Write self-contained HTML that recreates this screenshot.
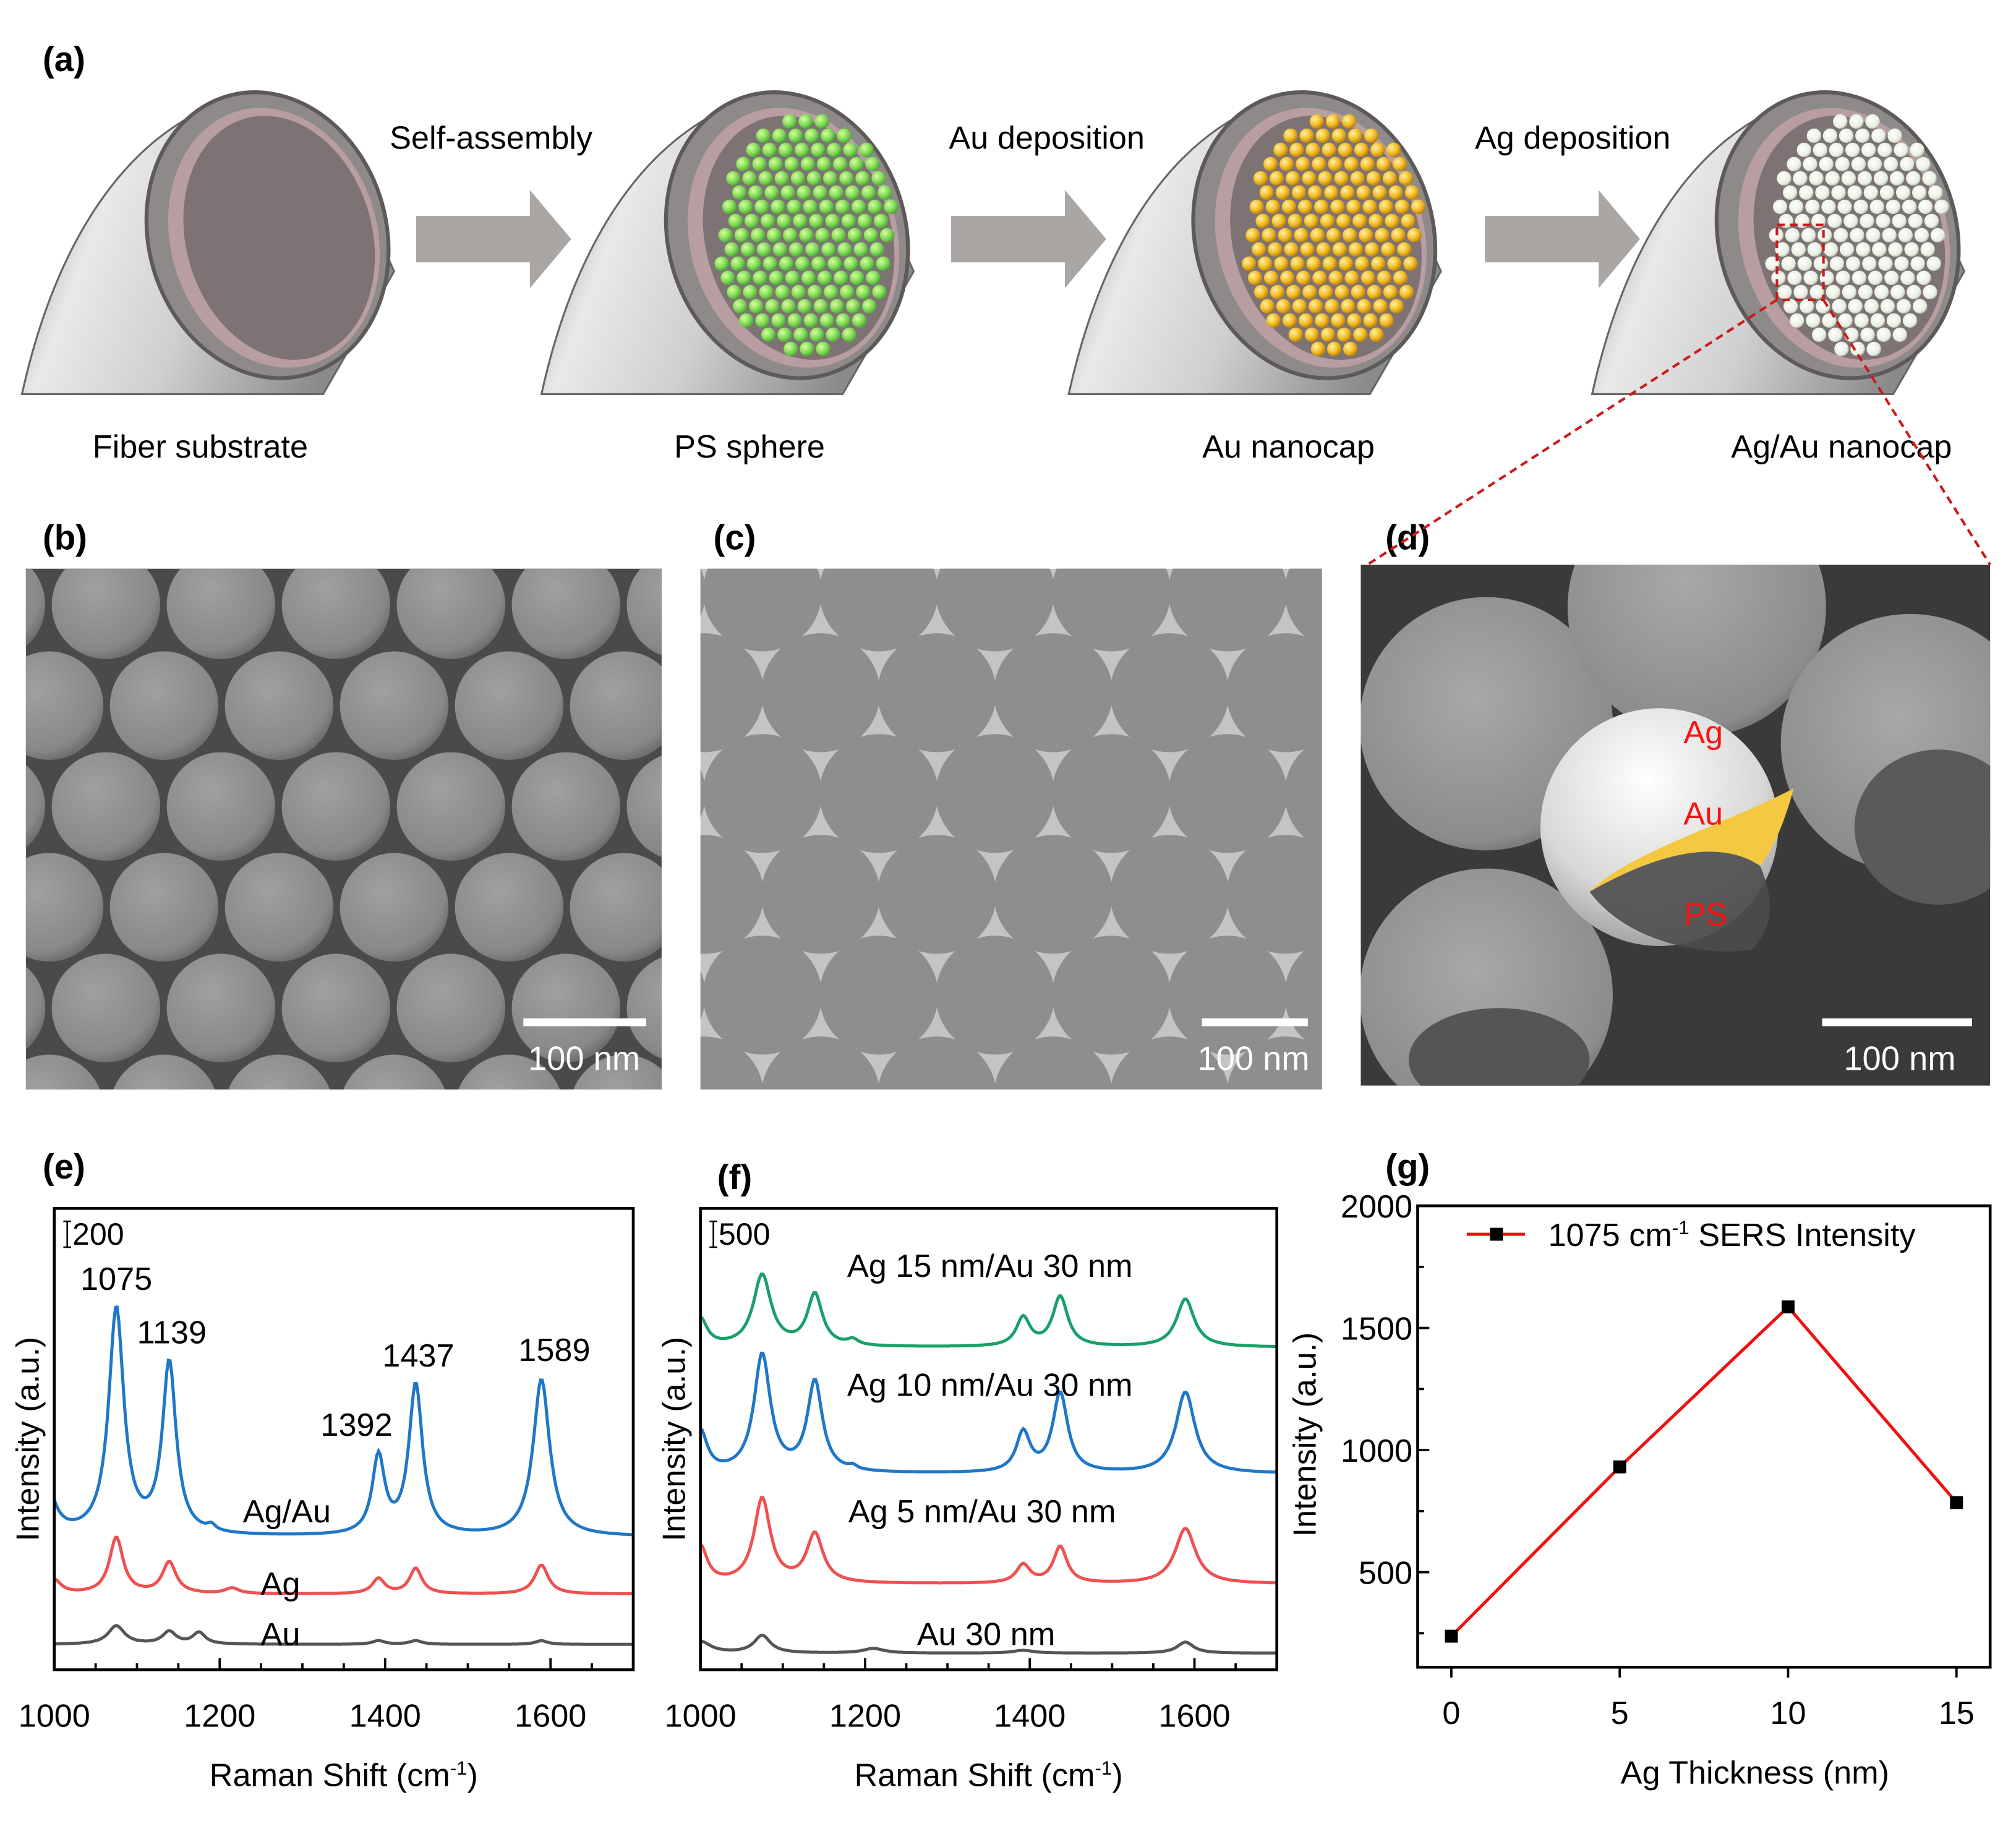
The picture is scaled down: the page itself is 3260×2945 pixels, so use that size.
<!DOCTYPE html>
<html><head><meta charset="utf-8"><style>
html,body{margin:0;padding:0;background:#fff;}
svg{display:block;font-family:"Liberation Sans",Arial,sans-serif;}
</style></head><body>
<svg id="fig" width="3260" height="2945" viewBox="0 0 1560 1409" preserveAspectRatio="none" xmlns="http://www.w3.org/2000/svg">
<defs>
<linearGradient id="body" x1="0" y1="0" x2="1" y2="0.3"><stop offset="0" stop-color="#777"/><stop offset="0.3" stop-color="#e9e9e9"/><stop offset="0.6" stop-color="#cfcfcf"/><stop offset="1" stop-color="#8a8a8a"/></linearGradient>
<radialGradient id="gS" cx="0.35" cy="0.35" r="0.7"><stop offset="0" stop-color="#d6ff9a"/><stop offset="0.6" stop-color="#7ed957"/><stop offset="1" stop-color="#4c9e35"/></radialGradient>
<radialGradient id="yS" cx="0.35" cy="0.35" r="0.7"><stop offset="0" stop-color="#fff2a0"/><stop offset="0.6" stop-color="#f2b820"/><stop offset="1" stop-color="#b07a10"/></radialGradient>
<radialGradient id="wS" cx="0.4" cy="0.4" r="0.7"><stop offset="0" stop-color="#ffffff"/><stop offset="0.7" stop-color="#e8eee0"/><stop offset="1" stop-color="#9aa890"/></radialGradient>
<radialGradient id="semB" cx="0.4" cy="0.35" r="0.7"><stop offset="0" stop-color="#a0a0a0"/><stop offset="0.8" stop-color="#888"/><stop offset="1" stop-color="#666"/></radialGradient>
<radialGradient id="semD" cx="0.45" cy="0.4" r="0.7"><stop offset="0" stop-color="#a8a8a8"/><stop offset="0.8" stop-color="#8c8c8c"/><stop offset="1" stop-color="#5a5a5a"/></radialGradient>
<radialGradient id="capG" cx="0.45" cy="0.3" r="0.8"><stop offset="0" stop-color="#ffffff"/><stop offset="0.6" stop-color="#d8d8d8"/><stop offset="1" stop-color="#8a8a8a"/></radialGradient>
<clipPath id="clipB"><rect x="20" y="440" width="492" height="403"/></clipPath>
<clipPath id="clipC"><rect x="542" y="440" width="481" height="403"/></clipPath>
<clipPath id="clipD"><rect x="1053" y="437" width="487" height="403"/></clipPath>
</defs>

<text x="33" y="55" font-size="27" font-weight="bold">(a)</text>
<g id="fibers"></g>
<g fill="#aaa6a4">
<path d="M322,167 h88 v-20 l32,38 l-32,38 v-20 h-88z"/>
<path d="M736,167 h88 v-20 l32,38 l-32,38 v-20 h-88z"/>
<path d="M1149,167 h88 v-20 l32,38 l-32,38 v-20 h-88z"/>
</g>
<g font-size="25" text-anchor="middle">
<text x="380" y="115">Self-assembly</text>
<text x="810" y="115">Au deposition</text>
<text x="1217" y="115">Ag deposition</text>
<text x="155" y="354">Fiber substrate</text>
<text x="580" y="354">PS sphere</text>
<text x="997" y="354">Au nanocap</text>
<text x="1425" y="354">Ag/Au nanocap</text>
</g>

<text x="33" y="425" font-size="27" font-weight="bold">(b)</text>
<text x="552" y="425" font-size="27" font-weight="bold">(c)</text>
<text x="1072" y="425" font-size="27" font-weight="bold">(d)</text>

<g clip-path="url(#clipB)">
<rect x="20" y="440" width="492" height="403" fill="#4a4a4a"/>
<g id="semBspheres"></g>
<rect x="405" y="788" width="95" height="6" fill="#fff"/>
<text x="452" y="828" font-size="26" fill="#fff" text-anchor="middle">100 nm</text>
</g>
<g clip-path="url(#clipC)">
<rect x="542" y="440" width="481" height="403" fill="#c4c4c4"/>
<g id="semCcircles"></g>
<rect x="930" y="788" width="82" height="6" fill="#fff"/>
<text x="970" y="828" font-size="26" fill="#fff" text-anchor="middle">100 nm</text>
</g>
<g clip-path="url(#clipD)">
<rect x="1053" y="437" width="487" height="403" fill="#3a3a3a"/>
<circle cx="1150" cy="560" r="98" fill="url(#semD)"/>
<circle cx="1313" cy="470" r="100" fill="url(#semD)"/>
<circle cx="1478" cy="575" r="100" fill="url(#semD)"/>
<ellipse cx="1500" cy="640" rx="65" ry="60" fill="#5a5a5a"/>
<circle cx="1150" cy="770" r="98" fill="url(#semD)"/>
<ellipse cx="1160" cy="820" rx="70" ry="40" fill="#555"/>
<circle cx="1284" cy="640" r="92" fill="url(#capG)"/>
<path d="M1230,690 C1260,660 1330,640 1388,610 C1380,640 1370,660 1362,670 C1340,655 1300,650 1230,690Z" fill="#f5c842"/>
<path d="M1230,690 C1300,650 1340,655 1362,670 C1375,700 1370,720 1355,735 C1320,740 1260,730 1230,690Z" fill="#4d4d4d" opacity="0.9"/>
<text x="1318" y="575" font-size="25" fill="#ff1010" text-anchor="middle">Ag</text>
<text x="1318" y="638" font-size="25" fill="#ff1010" text-anchor="middle">Au</text>
<text x="1320" y="716" font-size="25" fill="#ff1010" text-anchor="middle">PS</text>
<rect x="1410" y="788" width="116" height="6" fill="#fff"/>
<text x="1470" y="828" font-size="26" fill="#fff" text-anchor="middle">100 nm</text>
</g>
<g stroke="#cc1a1a" stroke-width="2" stroke-dasharray="6,4" fill="none">
<rect x="1375" y="174" width="36" height="58"/>
<line x1="1375" y1="232" x2="1058" y2="437"/>
<line x1="1411" y1="232" x2="1540" y2="437"/>
</g>

<text x="33" y="912" font-size="27" font-weight="bold">(e)</text>
<text x="555" y="920" font-size="27" font-weight="bold">(f)</text>
<text x="1072" y="912" font-size="27" font-weight="bold">(g)</text>
<g id="chartE"></g>
<g id="chartF"></g>
<g id="chartG"></g>
</svg>
<script>
// ---------- chart data ----------
const ramanTicks = [1000, 1200, 1400, 1600];
const ramanDomain = [1000, 1700];
// panel e: baseline and peak parameters (position, height, half-width)
const eNames = ['Ag/Au', 'Ag', 'Au'];
const eColors = ['#1f77c8', '#f05050', '#555555'];
const eBaselines = [288, 164, 55];
const ePeakPos = [[990, 1075, 1139, 1190, 1392, 1437, 1589], [1000, 1075, 1139, 1215, 1392, 1437, 1589], [1075, 1139, 1175, 1392, 1437, 1589]];
const ePeakHeights = [[115, 490, 370, 12, 168, 326, 340], [30, 122, 68, 12, 33, 55, 63], [40, 27, 25, 8, 8, 8]];
const ePeakWidths = [[12, 11, 10, 6, 9, 10, 12], [10, 10, 10, 10, 9, 9, 10], [12, 10, 9, 9, 9, 9]];
const ePeakLabels = ['1075', '1139', '1392', '1437', '1589'];
// panel f
const fNames = ['Ag 15 nm/Au 30 nm', 'Ag 10 nm/Au 30 nm', 'Ag 5 nm/Au 30 nm', 'Au 30 nm'];
const fColors = ['#1aa06a', '#1f77c8', '#f05050', '#555555'];
const fBaselines = [699, 425, 186, 36];
const fPeakPos = [[1000, 1075, 1139, 1185, 1392, 1437, 1589], [1000, 1075, 1139, 1185, 1392, 1437, 1589], [1000, 1075, 1139, 1392, 1437, 1589], [1000, 1075, 1210, 1392, 1589]];
const fPeakHeights = [[60, 155, 112, 12, 62, 108, 104], [90, 255, 196, 8, 86, 172, 176], [80, 183, 106, 40, 79, 120], [25, 38, 10, 6, 24]];
const fPeakWidths = [[10, 13, 11, 8, 10, 11, 13], [10, 12, 11, 6, 10, 11, 14], [10, 12, 12, 10, 10, 15], [15, 12, 15, 15, 12]];
// panel g
const gThickness = [0, 5, 10, 15];
const gIntensity = [238, 931, 1586, 785];
const gYTicks = [500, 1000, 1500, 2000];
const gXTicks = [0, 5, 10, 15];

const NS = 'http://www.w3.org/2000/svg';
function mk(tag, attrs, parent){const e=document.createElementNS(NS,tag);for(const k in attrs)e.setAttribute(k,attrs[k]);parent.appendChild(e);return e;}

// ---------- fibers ----------
const fib = document.getElementById('fibers');
const fiberX = [0, 402, 810, 1215];
const fillTypes = [null, 'url(#gS)', 'url(#yS)', 'url(#wS)'];
fiberX.forEach((ox, i) => {
  const g = mk('g', {}, fib);
  
  
  mk('path', {d:`M${ox+17},305 C${ox+40},200 ${ox+90},105 ${ox+180},76 L${ox+260},110 L${ox+305},210 L${ox+250},305 Z`, fill:'url(#body)', stroke:'#666', 'stroke-width':1.5}, g);
  mk('ellipse', {cx:ox+207, cy:182, rx:92, ry:112, transform:`rotate(-16 ${ox+207} 182)`, fill:'#8f8a8a', stroke:'#5e5a5a', 'stroke-width':3}, g);
  mk('ellipse', {cx:ox+212, cy:184, rx:80, ry:102, transform:`rotate(-16 ${ox+212} 184)`, fill:'#b89ea0'}, g);
  mk('ellipse', {cx:ox+216, cy:184, rx:72, ry:96, transform:`rotate(-16 ${ox+216} 184)`, fill:'#7d7274'}, g);
  if (fillTypes[i]) {
    const cx = ox+222, cy = 182;
    for (let r = -8; r <= 8; r++) {
      for (let c = -7; c <= 7; c++) {
        const x = cx + c*12.5 + (r%2 ? 6.2 : 0) + r*-1.5, y = cy + r*11;
        const dx = (x-cx)/68, dy = (y-cy)/92;
        if (dx*dx+dy*dy < 1 && Math.abs(c*12.5 + (r%2?6.2:0)) < 64) mk('circle', {cx:x, cy:y, r:5.6, fill:fillTypes[i]}, g);
      }
    }
  }
});

// ---------- SEM b ----------
const sb = document.getElementById('semBspheres');
for (let r = 0; r < 6; r++) for (let c = -1; c < 7; c++) {
  const x = 20 + c*89 + (r%2 ? 0 : 44) + 18, y = 440 + r*78 + 28;
  mk('circle', {cx:x, cy:y, r:42, fill:'url(#semB)'}, sb);
}
// ---------- SEM c ----------
const sc = document.getElementById('semCcircles');
for (let r = 0; r < 6; r++) for (let c = -1; c < 7; c++) {
  const x = 542 + c*90 + (r%2 ? 45 : 0) + 48, y = 440 + r*78 + 18;
  mk('circle', {cx:x, cy:y, r:46, fill:'#8e8e8e'}, sc);
}

// ---------- spectra ----------
function spectrum(base, pos, hts, wds, x){let y=base;for(let k=0;k<pos.length;k++){const t=(x-pos[k])/wds[k];y+=hts[k]/(1+t*t);}return y;}
function ramanChart(id, left, right, top, bottom, names, colors, bases, pos, hts, wds, scaleLabel){
  const g = document.getElementById(id);
  const sx = v => left + (v-ramanDomain[0])/(ramanDomain[1]-ramanDomain[0])*(right-left);
  const sy = v => bottom - v*(bottom-top)/1000;
  for (let s = 0; s < names.length; s++) {
    let d = '';
    for (let x = ramanDomain[0]; x <= ramanDomain[1]; x += 2) d += (x===ramanDomain[0]?'M':'L') + sx(x).toFixed(1) + ',' + sy(spectrum(bases[s], pos[s], hts[s], wds[s], x)).toFixed(1);
    const p = mk('path', {d:d, fill:'none', stroke:colors[s], 'stroke-width':2.4}, g);
    
    
  }
  const fr = mk('rect', {x:left, y:top, width:right-left, height:bottom-top, fill:'none', stroke:'#000', 'stroke-width':2.2}, g);
  
  
  for (let v = ramanDomain[0]; v <= ramanDomain[1]; v += 50) {
    const major = ramanTicks.includes(v);
    mk('line', {x1:sx(v), x2:sx(v), y1:bottom, y2:bottom-(major?9:5), stroke:'#000', 'stroke-width':1.8}, g);
  }
  ramanTicks.forEach(v => {
    const t = mk('text', {x:sx(v), y:bottom+44, 'font-size':25, 'text-anchor':'middle'}, g);
    t.textContent = v;
    
    
  });
  const xt = mk('text', {x:(left+right)/2, y:bottom+90, 'font-size':25, 'text-anchor':'middle'}, g);
  xt.innerHTML = 'Raman Shift (cm<tspan dy="-9" font-size="15">-1</tspan><tspan dy="9">)</tspan>';
  
  
  const yt = mk('text', {x:0, y:0, 'font-size':25, 'text-anchor':'middle', transform:`translate(${left-12},${(top+bottom)/2+0}) rotate(-90)`}, g);
  yt.textContent = 'Intensity (a.u.)';
  
  
  const sl = mk('text', {x:left+14, y:top+28, 'font-size':24}, g);
  sl.textContent = scaleLabel;
  
  
  mk('line', {x1:left+10, x2:left+10, y1:top+10, y2:top+30, stroke:'#000', 'stroke-width':1.2}, g);
  mk('line', {x1:left+7, x2:left+13, y1:top+10, y2:top+10, stroke:'#000', 'stroke-width':1.2}, g);
  mk('line', {x1:left+7, x2:left+13, y1:top+30, y2:top+30, stroke:'#000', 'stroke-width':1.2}, g);
  return {sx, sy, g};
}
const E = ramanChart('chartE', 42, 490, 935, 1292, eNames, eColors, eBaselines, ePeakPos, ePeakHeights, ePeakWidths, '200');
const eLabelOffsets = [[0,-12],[2,-12],[-17,-12],[2,-12],[10,-14]];
const eLabelPos = [1075, 1139, 1392, 1437, 1589];
ePeakLabels.forEach((lab, k) => {
  const x = eLabelPos[k];
  const yv = spectrum(eBaselines[0], ePeakPos[0], ePeakHeights[0], ePeakWidths[0], x);
  const t = mk('text', {x:E.sx(x)+eLabelOffsets[k][0], y:E.sy(yv)+eLabelOffsets[k][1], 'font-size':25, 'text-anchor':'middle'}, E.g);
  t.textContent = lab;
  
  
});
const eNameXY = [[222,1178],[217,1234],[217,1273]];
eNames.forEach((n,k)=>{const t=mk('text',{x:eNameXY[k][0],y:eNameXY[k][1],'font-size':25,'text-anchor':'middle'},E.g);t.textContent=n;

});

const F = ramanChart('chartF', 542, 988, 935, 1292, fNames, fColors, fBaselines, fPeakPos, fPeakHeights, fPeakWidths, '500');
const fNameXY = [[766,988],[766,1080],[760,1178],[763,1273]];
fNames.forEach((n,k)=>{const t=mk('text',{x:fNameXY[k][0],y:fNameXY[k][1],'font-size':25,'text-anchor':'middle'},F.g);t.textContent=n;

});

// ---------- panel g ----------
(function(){
  const g = document.getElementById('chartG');
  const left=1097, right=1540, top=933, bottom=1290;
  const xs = v => left + (v+1)/17*(right-left);
  const ys = v => bottom - (v-111)/(2000-111)*(bottom-top);
  const fr = mk('rect', {x:left, y:top, width:right-left, height:bottom-top, fill:'none', stroke:'#000', 'stroke-width':2.2}, g);
  
  
  for (let v = 250; v <= 2000; v += 250) mk('line',{x1:left,x2:left+(v%500?5:9),y1:ys(v),y2:ys(v),stroke:'#000','stroke-width':1.8},g);
  gYTicks.forEach(v=>{const t=mk('text',{x:left-4,y:ys(v)+9,'font-size':25,'text-anchor':'end'},g);t.textContent=v;
  
  });
  gXTicks.forEach(v=>{mk('line',{x1:xs(v),x2:xs(v),y1:bottom,y2:bottom+8,stroke:'#000','stroke-width':1.8},g);
  const t=mk('text',{x:xs(v),y:bottom+44,'font-size':25,'text-anchor':'middle'},g);t.textContent=v;
  
  });
  let d='';gThickness.forEach((v,k)=>{d+=(k?'L':'M')+xs(v)+','+ys(gIntensity[k]);});
  const ln=mk('path',{d:d,fill:'none',stroke:'#ee1111','stroke-width':2.4},g);
  
  
  gThickness.forEach((v,k)=>{const r=mk('rect',{x:xs(v)-5,y:ys(gIntensity[k])-5,width:10,height:10,fill:'#000'},g);
  
  });
  mk('line',{x1:1135,x2:1180,y1:955,y2:955,stroke:'#ee1111','stroke-width':2.4},g);
  mk('rect',{x:1153,y:950,width:10,height:10,fill:'#000'},g);
  const lt=mk('text',{x:1198,y:964,'font-size':25},g);
  lt.innerHTML='1075 cm<tspan dy="-9" font-size="15">-1</tspan><tspan dy="9"> SERS Intensity</tspan>';
  
  
  const xt=mk('text',{x:1358,y:1380,'font-size':25,'text-anchor':'middle'},g);xt.textContent='Ag Thickness (nm)';
  
  
  const yt=mk('text',{x:0,y:0,'font-size':25,'text-anchor':'middle',transform:`translate(1018,1110) rotate(-90)`},g);yt.textContent='Intensity (a.u.)';
  
  
})();
</script>
</body></html>
